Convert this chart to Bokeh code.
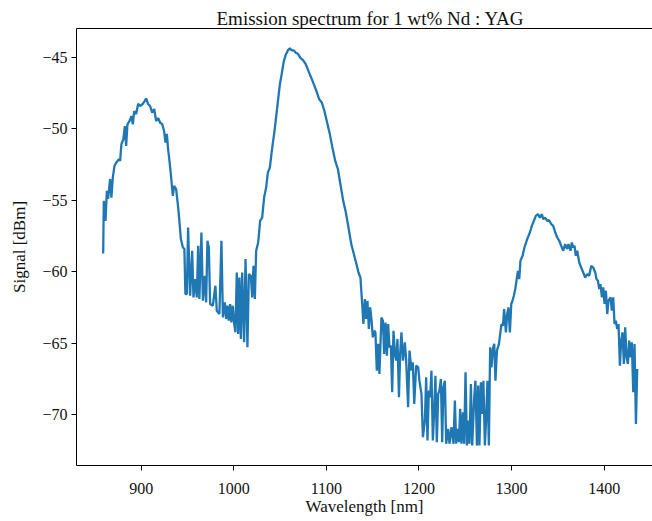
from bokeh.plotting import figure
from bokeh.models import Range1d, FixedTicker, LinearAxis, CustomJSTickFormatter, ColumnDataSource
from bokeh.embed import file_html
from bokeh.resources import INLINE

title_text = "Emission spectrum for 1 wt% Nd : YAG"
x_label = "Wavelength [nm]"
y_label = "Signal [dBm]"
x_ticks = [900, 1000, 1100, 1200, 1300, 1400]
y_ticks = [-70, -65, -60, -55, -50, -45]

wavelength = [
    859.0, 859.7, 861.5, 863.0, 864.3, 866.5, 867.9, 869.4, 871.2, 873.0,
    876.0, 877.3, 878.7, 880.8, 882.4, 883.8, 885.2, 887.4, 889.5, 891.0,
    892.5, 894.6, 896.8, 898.9, 901.9, 903.8, 905.4, 907.5, 909.7, 911.9,
    914.1, 916.2, 918.4, 920.5, 922.7, 924.8, 926.3, 927.8, 929.1, 930.6,
    932.1, 934.2, 935.6, 937.8, 940.0, 941.3, 942.9, 945.1, 946.7, 947.8,
    949.4, 950.7, 952.9, 955.1, 956.5, 958.6, 960.1, 961.6, 962.9, 965.1,
    966.7, 968.8, 970.2, 971.6, 973.1, 974.5, 977.4, 980.2, 981.7, 984.5,
    986.7, 988.3, 990.4, 991.8, 993.2, 994.7, 996.1, 997.5, 999.0, 1000.5,
    1001.8, 1003.3, 1004.8, 1006.1, 1007.7, 1009.1, 1011.2, 1012.7, 1014.8, 1016.3,
    1018.5, 1019.9, 1021.3, 1022.8, 1024.2, 1026.4, 1028.5, 1030.7, 1032.8, 1035.0,
    1036.8, 1039.0, 1041.1, 1044.0, 1046.9, 1049.8, 1052.0, 1054.1, 1056.3, 1058.4,
    1060.6, 1062.7, 1064.9, 1067.0, 1069.3, 1072.0, 1075.0, 1077.9, 1080.7, 1083.7,
    1086.5, 1089.3, 1092.3, 1095.2, 1097.9, 1100.9, 1103.8, 1106.6, 1109.6, 1112.5,
    1115.2, 1118.2, 1121.1, 1123.9, 1126.9, 1129.7, 1132.5, 1134.7, 1136.8, 1138.7,
    1140.0, 1141.6, 1143.0, 1144.4, 1145.9, 1147.3, 1148.7, 1150.2, 1151.7, 1153.0,
    1154.5, 1156.0, 1157.3, 1159.5, 1161.1, 1162.4, 1163.9, 1165.4, 1166.7, 1168.2,
    1169.7, 1171.1, 1172.5, 1174.0, 1175.4, 1176.8, 1178.4, 1179.7, 1181.1, 1182.7,
    1184.8, 1186.2, 1188.3, 1189.8, 1191.9, 1193.4, 1194.9, 1197.0, 1199.2, 1200.5,
    1202.7, 1204.3, 1206.4, 1207.8, 1209.2, 1210.7, 1212.1, 1213.5, 1215.0, 1216.5,
    1217.8, 1219.3, 1220.8, 1222.1, 1223.7, 1225.1, 1226.4, 1228.0, 1229.4, 1231.5,
    1233.0, 1235.1, 1237.3, 1238.8, 1240.2, 1241.6, 1243.2, 1244.5, 1245.9, 1247.5,
    1248.8, 1250.3, 1251.8, 1253.1, 1254.6, 1256.1, 1257.5, 1259.7, 1261.0, 1262.6,
    1264.0, 1265.3, 1266.9, 1268.3, 1269.6, 1271.2, 1272.6, 1274.0, 1275.5, 1276.9,
    1278.3, 1279.8, 1281.3, 1282.6, 1284.2, 1286.4, 1287.7, 1289.1, 1290.7, 1292.0,
    1293.9, 1295.3, 1296.7, 1298.2, 1299.7, 1301.0, 1302.5, 1304.0, 1305.3, 1306.9,
    1308.3, 1309.6, 1311.9, 1313.9, 1316.9, 1319.8, 1321.9, 1324.1, 1326.2, 1328.5,
    1330.6, 1332.8, 1334.2, 1336.3, 1338.5, 1340.6, 1342.9, 1345.0, 1347.2, 1349.3,
    1351.5, 1353.6, 1355.8, 1357.9, 1360.1, 1361.5, 1363.7, 1365.1, 1366.6, 1368.0,
    1369.4, 1370.9, 1373.1, 1375.2, 1377.4, 1379.5, 1381.7, 1383.8, 1386.1, 1388.2,
    1390.4, 1391.7, 1393.3, 1394.7, 1396.0, 1397.6, 1399.0, 1400.4, 1401.9, 1403.3,
    1404.7, 1406.9, 1408.3, 1409.8, 1411.2, 1412.6, 1414.1, 1415.5, 1417.0, 1418.4,
    1419.8, 1421.3, 1422.7, 1424.2, 1425.6, 1427.0, 1428.5, 1429.9, 1431.4, 1432.8,
    1434.3, 1435.7,
]

signal = [
    -58.73, -55.05, -56.45, -54.35, -54.91, -53.52, -54.82, -53.42, -52.61, -52.38,
    -52.14, -52.26, -51.09, -50.74, -49.82, -51.21, -49.70, -49.47, -49.12, -49.70,
    -48.77, -48.98, -48.26, -48.42, -48.26, -48.07, -47.88, -48.28, -48.42, -48.89,
    -48.63, -49.47, -49.26, -49.59, -49.68, -50.17, -50.98, -50.37, -51.44, -52.26,
    -53.19, -54.70, -54.00, -54.23, -55.52, -56.45, -57.72, -58.31, -58.40, -61.56,
    -61.56, -56.91, -61.68, -58.54, -61.80, -60.52, -61.80, -58.19, -61.91, -57.26,
    -62.03, -60.29, -62.15, -57.84, -58.31, -62.26, -62.38, -60.98, -62.73, -62.96,
    -57.84, -63.20, -62.15, -63.31, -62.38, -63.43, -62.26, -63.55, -62.38, -63.66,
    -64.24, -60.06, -64.36, -60.41, -64.71, -60.06, -64.94, -59.12, -65.29, -60.17,
    -60.29, -61.80, -59.59, -61.91, -58.54, -57.96, -56.45, -56.22, -54.82, -54.12,
    -53.08, -52.73, -51.56, -50.17, -48.54, -46.91, -46.10, -45.28, -44.81, -44.53,
    -44.39, -44.53, -44.53, -44.70, -44.77, -45.05, -45.23, -45.51, -45.98, -46.44,
    -46.91, -47.37, -47.95, -48.19, -48.77, -49.59, -50.40, -51.33, -52.26, -52.84,
    -53.89, -55.05, -55.87, -56.91, -58.07, -58.77, -59.47, -60.06, -60.41, -62.26,
    -63.66, -61.91, -63.31, -62.03, -64.01, -62.50, -63.31, -64.59, -64.13, -64.24,
    -66.92, -65.05, -67.15, -63.20, -63.43, -65.75, -63.55, -65.87, -63.66, -65.29,
    -65.17, -68.43, -64.13, -65.75, -66.22, -64.70, -68.78, -65.75, -64.24, -66.22,
    -64.94, -66.22, -69.48, -65.52, -66.92, -66.34, -69.24, -66.57, -66.69, -67.62,
    -68.54, -71.57, -70.41, -67.38, -71.80, -68.31, -68.78, -66.92, -71.80, -69.71,
    -67.27, -71.92, -68.54, -68.31, -67.50, -71.92, -68.08, -67.62, -72.03, -70.99,
    -72.03, -70.87, -72.03, -69.01, -72.03, -70.99, -71.92, -69.59, -72.03, -69.83,
    -72.03, -67.04, -72.15, -70.41, -72.03, -67.85, -72.15, -68.78, -67.62, -72.15,
    -67.96, -72.15, -67.73, -69.94, -67.62, -72.15, -70.18, -67.62, -72.15, -65.29,
    -66.69, -65.40, -65.05, -67.62, -65.52, -65.05, -64.36, -63.66, -63.78, -62.61,
    -64.24, -62.96, -62.50, -64.24, -62.26, -62.03, -61.68, -61.21, -60.64, -59.94,
    -60.52, -59.24, -58.89, -58.31, -57.72, -57.26, -56.80, -56.45, -56.10, -55.98,
    -56.22, -55.98, -56.33, -56.22, -56.45, -56.40, -56.68, -56.80, -57.26, -57.61,
    -57.84, -58.19, -58.54, -58.07, -58.42, -58.07, -58.54, -57.96, -58.31, -58.19,
    -58.89, -58.54, -59.36, -59.71, -60.06, -60.41, -60.17, -60.29, -59.59, -59.71,
    -60.06, -60.52, -60.64, -61.21, -60.87, -61.80, -61.10, -62.26, -61.33, -62.96,
    -62.03, -61.80, -62.73, -61.80, -63.66, -63.43, -64.01, -63.66, -66.57, -64.82,
    -64.24, -66.45, -63.89, -65.99, -66.45, -64.82, -65.99, -64.94, -68.43, -65.05,
    -70.64, -66.80,
]

FONT = "Liberation Serif"
TEXT_COLOR = "#111111"

source = ColumnDataSource(data=dict(wavelength=wavelength, signal=signal))

p = figure(
    width=652, height=521,
    output_backend="svg", toolbar_location=None,
    x_range=Range1d(830.2, 1452.2), y_range=Range1d(-73.55, -43.0),
    min_border_left=76, min_border_right=0, min_border_top=28, min_border_bottom=56,
    title=title_text,
)
p.outline_line_color = None
p.background_fill_color = "white"
p.border_fill_color = "white"
p.xgrid.visible = False
p.ygrid.visible = False

p.title.align = "left"
p.title.offset = 140
p.title.text_font = FONT
p.title.text_font_size = "19px"
p.title.text_font_style = "normal"
p.title.text_color = TEXT_COLOR
p.title.standoff = 0

p.line("wavelength", "signal", source=source, line_color="#1f77b4", line_width=2.3)

xa = p.xaxis[0]
xa.ticker = FixedTicker(ticks=x_ticks)
xa.axis_label = x_label
ya = p.yaxis[0]
ya.ticker = FixedTicker(ticks=y_ticks)
ya.axis_label = y_label
ya.formatter = CustomJSTickFormatter(code="return tick < 0 ? '\u2212' + String(-tick) : String(tick);")

for ax in (xa, ya):
    ax.axis_line_color = "black"
    ax.axis_line_width = 1
    ax.major_tick_line_color = "black"
    ax.major_tick_line_width = 1
    ax.major_tick_out = 5
    ax.major_tick_in = 0
    ax.minor_tick_line_color = None
    ax.major_label_text_font = FONT
    ax.major_label_text_font_size = "16px"
    ax.major_label_text_color = TEXT_COLOR
    ax.axis_label_text_font = FONT
    ax.axis_label_text_font_size = "17px"
    ax.axis_label_text_font_style = "normal"
    ax.axis_label_text_color = TEXT_COLOR
    ax.major_label_standoff = 4

xa.major_label_standoff = 12
xa.axis_label_standoff = 0
ya.axis_label_standoff = 10

top = LinearAxis(ticker=FixedTicker(ticks=[]))
top.axis_line_color = "black"
top.axis_line_width = 1
top.major_tick_line_color = None
top.major_tick_out = 6
top.major_tick_in = 0
top.minor_tick_line_color = None
top.major_label_text_font_size = "0px"
top.major_label_standoff = 0
p.add_layout(top, "above")

open("out.html", "w").write(file_html(p, INLINE))
